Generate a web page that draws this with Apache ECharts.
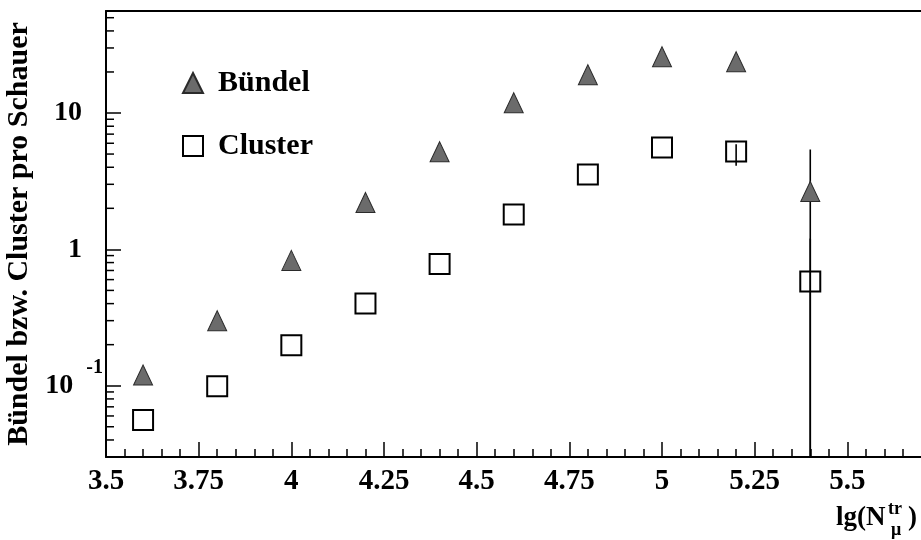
<!DOCTYPE html>
<html><head><meta charset="utf-8">
<script src="https://cdn.jsdelivr.net/npm/echarts@6/dist/echarts.min.js"></script>
<style>html,body{margin:0;padding:0;background:#fff;overflow:hidden;width:921px;height:540px}#c{width:940px;height:540px}</style>
</head><body><div id="c"></div>
<script>
// ---- data ----
const xValues = [3.6, 3.8, 4.0, 4.2, 4.4, 4.6, 4.8, 5.0, 5.2, 5.4];
const buendel = [0.12, 0.30, 0.83, 2.21, 5.2, 11.9, 19.1, 25.9, 23.8, 2.66];
const cluster = [0.056, 0.099, 0.198, 0.40, 0.78, 1.80, 3.54, 5.59, 5.22, 0.58];
// visible error bars (others hidden inside markers)
const errX = [5.4, 5.4, 5.2];
const errLow = [0.001, 0.001, 4.1];
const errHigh = [5.4, 1.2, 5.9];
// y axis minor tick values (log axis)
const yMinorTicks = [0.04, 0.05, 0.06, 0.07, 0.08, 0.09, 0.2, 0.3, 0.4, 0.5, 0.6, 0.7, 0.8, 0.9, 2, 3, 4, 5, 6, 7, 8, 9, 20, 30, 40, 50];
const seriesNames = ['Bündel', 'Cluster'];
const yAxisTitle = 'Bündel bzw. Cluster pro Schauer';

const FONT = '"Liberation Serif", "Times New Roman", serif';
const chart = echarts.init(document.getElementById('c'), null, {renderer: 'canvas'});

function yLabel(v) {
  const l = Math.log10(v);
  if (Math.abs(l - 1) < 1e-6) return '{n|10}{p|}';
  if (Math.abs(l) < 1e-6) return '{n|1}{p|}';
  if (Math.abs(l + 1) < 1e-6) return '{n|10}{g|}{s|-1}';
  return '';
}
function xLabel(v) {
  const r = Math.round(v * 4) / 4;
  if (Math.abs(r - v) > 1e-6 || v > 5.6) return '';
  return String(Math.round(v * 100) / 100);
}

const option = {
  animation: false,
  backgroundColor: '#fff',
  grid: {left: 106, top: 11, right: 0, bottom: 83, show: false, containLabel: false, outerBoundsMode: 'none'},
  legend: {
    orient: 'vertical', left: 177, top: 63,
    itemWidth: 20, itemHeight: 20, itemGap: 33,
    data: seriesNames,
    textStyle: {fontFamily: FONT, fontWeight: 'bold', fontSize: 30, lineHeight: 30, color: '#000', padding: [0, 0, 0, 10]}
  },
  xAxis: [{
    type: 'value', min: 3.5, max: 5.75, interval: 0.25, position: 'bottom',
    axisLine: {show: true, onZero: false, lineStyle: {color: '#000', width: 2}},
    axisTick: {show: true, inside: true, length: 15, lineStyle: {color: '#000', width: 1.5}},
    minorTick: {show: true, splitNumber: 5, length: 8, lineStyle: {color: '#000', width: 1.5}},
    splitLine: {show: false},
    axisLabel: {margin: 10, fontFamily: FONT, fontWeight: 'bold', fontSize: 29, color: '#000', showMaxLabel: false, formatter: xLabel}
  }, {
    type: 'value', min: 3.5, max: 5.75, position: 'top',
    axisLine: {show: true, onZero: false, lineStyle: {color: '#000', width: 2}},
    axisTick: {show: false}, axisLabel: {show: false}, splitLine: {show: false}
  }],
  yAxis: {
    type: 'log', logBase: 10, min: 0.03, max: 56,
    name: yAxisTitle, nameLocation: 'middle', nameGap: 68,
    nameTextStyle: {fontFamily: FONT, fontWeight: 'bold', fontSize: 30, color: '#000'},
    axisLine: {show: true, onZero: false, lineStyle: {color: '#000', width: 2}},
    axisTick: {show: true, inside: true, length: 15, lineStyle: {color: '#000', width: 1.5}},
    splitLine: {show: false},
    axisLabel: {
      margin: 3, formatter: yLabel,
      rich: {
        n: {fontFamily: FONT, fontWeight: 'bold', fontSize: 28, color: '#000', lineHeight: 56, verticalAlign: 'middle'},
        p: {width: 21},
        g: {width: 13},
        s: {fontFamily: FONT, fontWeight: 'bold', fontSize: 20, color: '#000', verticalAlign: 'top', lineHeight: 20}
      }
    }
  },
  graphic: [
    {type: 'text', x: 836, y: 518, style: {text: 'lg(N', font: 'bold 27px "Liberation Serif"', fill: '#000', verticalAlign: 'middle'}},
    {type: 'text', x: 888, y: 509, style: {text: 'tr', font: 'bold 18px "Liberation Serif"', fill: '#000', verticalAlign: 'middle'}},
    {type: 'text', x: 891, y: 530, style: {text: 'μ', font: 'bold 18px "Liberation Serif"', fill: '#000', verticalAlign: 'middle'}},
    {type: 'text', x: 908, y: 518, style: {text: ')', font: 'bold 27px "Liberation Serif"', fill: '#000', verticalAlign: 'middle'}}
  ],
  series: [
    {
      name: seriesNames[1], type: 'scatter', z: 2,
      symbol: 'rect', symbolSize: 20,
      itemStyle: {color: '#fff', borderColor: '#000', borderWidth: 2, opacity: 1},
      data: xValues.map((x, i) => [x, cluster[i]])
    },
    {
      name: 'err', type: 'custom', z: 3, silent: true,
      data: errX.map((x, i) => [x, errLow[i], errHigh[i]]),
      encode: {x: 0, y: [1, 2]},
      renderItem: function (params, api) {
        const cs = params.coordSys;
        const p1 = api.coord([api.value(0), api.value(1)]);
        const p2 = api.coord([api.value(0), api.value(2)]);
        const yb = Math.min(p1[1], cs.y + cs.height);
        const yt = Math.max(p2[1], cs.y);
        return {type: 'line', shape: {x1: p1[0], y1: yb, x2: p1[0], y2: yt}, style: {stroke: '#000', lineWidth: 1.6}};
      }
    },
    {
      name: seriesNames[0], type: 'scatter', z: 4,
      symbol: 'triangle', symbolSize: [19, 20],
      itemStyle: {color: '#6b6b6b', borderColor: '#2a2a2a', borderWidth: 1, opacity: 1},
      data: xValues.map((x, i) => [x, buendel[i]])
    },
    {
      name: 'yminor', type: 'custom', z: 5, silent: true,
      data: yMinorTicks.map(v => [3.5, v]),
      renderItem: function (params, api) {
        const p = api.coord([3.5, api.value(1)]);
        return {type: 'line', shape: {x1: p[0], y1: p[1], x2: p[0] + 8, y2: p[1]}, style: {stroke: '#000', lineWidth: 1.5}};
      }
    }
  ]
};
chart.setOption(option);
</script>
</body></html>
